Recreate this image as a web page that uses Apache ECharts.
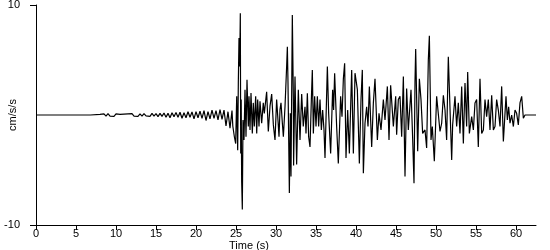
<!DOCTYPE html>
<html><head><meta charset="utf-8">
<script src="https://cdn.jsdelivr.net/npm/echarts@6/dist/echarts.min.js"></script>
<style>html,body{margin:0;padding:0;background:#fff}#c{width:550px;height:250px}</style>
</head><body><div id="c"></div>
<script>
var xTicks = [0,5,10,15,20,25,30,35,40,45,50,55,60];
var yTicks = [-10,10];
var times = [
0,6.8,6.9,7.0,
8.0,8.25,8.5,8.75,9.0,9.25,9.5,9.75,10.0,10.25,10.5,10.75,11.0,11.25,11.5,11.75,
12.0,12.25,12.5,12.75,13.0,13.25,13.5,13.75,14.0,14.25,14.5,14.75,15.0,15.25,15.5,15.75,
16.0,16.25,16.5,16.75,17.0,17.25,17.5,17.75,18.0,18.25,18.5,18.75,19.0,19.25,19.5,19.75,
20.0,20.25,20.5,20.75,21.0,21.25,21.5,21.75,22.0,22.25,22.5,22.75,23.0,23.25,23.5,23.75,
24.0,24.25,
24.5,24.6,24.8,24.96,25.09,25.21,25.29,25.375,25.46,25.54,25.59,25.65,25.71,25.79,25.875,
26.0,26.125,26.25,26.375,26.54,26.625,26.75,26.875,27.04,27.16,27.29,27.46,27.59,27.71,27.875,
28.0,28.21,28.41,28.54,28.83,29.04,29.25,29.46,29.67,29.875,30.08,30.25,30.375,30.5,30.625,30.8,30.92,
31.125,31.33,31.42,31.5,31.67,31.79,31.875,32.04,32.17,32.2,32.375,32.58,32.79,33.0,33.21,33.41,33.625,
33.75,33.92,34.08,34.25,34.42,34.54,34.67,34.83,35.0,35.17,35.33,35.5,35.67,35.83,36.0,36.125,
36.42,36.58,36.83,37.08,37.2,37.33,37.58,37.79,38.08,38.25,38.42,38.58,38.75,38.96,39.17,39.46,
39.67,39.875,40.17,40.42,40.625,40.79,40.92,41.125,41.33,41.5,41.67,41.96,42.17,42.375,42.67,
42.875,43.125,43.42,43.625,43.92,44.125,44.33,44.67,44.96,45.08,45.29,45.5,45.71,45.92,46.125,
46.33,46.54,46.875,47.08,47.25,47.375,47.46,47.71,47.92,48.125,48.33,48.625,48.83,49.04,49.17,
49.375,49.54,49.79,50.08,50.29,50.5,50.71,50.92,51.125,51.33,51.54,51.96,52.08,52.375,52.58,
52.79,53.0,53.21,53.42,53.625,53.83,53.96,54.17,54.46,54.67,54.875,55.08,55.29,55.5,55.71,
55.92,56.125,56.33,56.54,56.75,56.96,57.17,57.375,57.58,57.79,58.0,58.21,58.42,58.75,58.92,
59.08,59.25,59.46,59.67,59.875,60.08,60.29,60.5,60.71,60.92,61.125,61.33,61.54,61.75,61.96,62.5
];
var accel = [
0,0,-0.05,0,
0.05,-0.08,0.1,-0.1,0.12,-0.1,0.08,-0.12,0.1,-0.08,0.06,-0.1,0.08,-0.06,0.1,-0.08,
0.12,-0.1,0.08,-0.12,0.1,-0.1,0.12,-0.08,0.1,-0.12,0.14,-0.1,0.12,-0.15,0.15,-0.12,
0.18,-0.2,0.15,-0.25,0.2,-0.15,0.22,-0.2,0.25,-0.3,0.2,-0.25,0.3,-0.2,0.28,-0.35,
0.3,-0.25,0.35,-0.3,0.4,-0.5,0.3,-0.35,0.45,-0.3,0.4,-0.45,0.5,-0.4,0.45,-1.0,
0.3,-1.2,
0.4,-1.0,-2.0,-2.6,1.7,-3.2,2.9,7.0,4.4,9.25,-3.5,1.4,-6.1,-8.6,-0.45,
-2.27,2.3,-1.97,3.2,-1.05,1.7,-1.36,2.0,-1.67,1.1,-1.05,1.7,-1.67,1.4,-1.05,
1.25,-0.75,1.1,0.15,2.1,-1.5,0.8,1.9,-0.9,-2.27,1.4,-0.5,-1.97,0.5,1.1,-0.8,-1.97,
0.75,4.4,6.2,2.9,-7.1,0.15,-5.6,9.1,1.4,-4.6,3.5,-4.5,2.3,-2.27,1.9,-1.05,0.75,
-1.67,1.97,-1.97,-2.9,1.4,4.1,-1.67,1.7,-1.05,1.7,-1.05,1.4,-1.36,0.45,-1.36,-3.9,
4.4,0.15,-3.5,2.3,0.45,3.8,-1.05,-4.4,1.7,-0.15,3.3,4.7,-3.9,0.45,-3.5,4.1,
-3.5,3.8,2.3,-4.4,1.4,4.1,-5.3,-0.75,0.75,-1.05,2.6,-2.9,1.1,3.3,-2.27,
0.15,-1.36,1.4,-0.45,2.6,-2.27,2.7,-1.05,1.7,-1.8,1.4,1.7,-1.97,3.5,-5.6,
2.4,-1.36,2.3,-2.1,-6.2,3.0,6.0,-3.3,3.3,1.4,-1.67,-1.36,-3.0,5.0,7.2,
-2.27,-1.05,-4.2,1.7,1.7,-1.5,-0.75,1.8,0.45,-2.27,5.3,-4.1,-0.9,1.7,-1.05,
1.1,-1.67,2.6,-2.6,2.9,-1.05,3.9,-1.67,-0.15,-1.36,1.1,1.4,-2.9,3.3,-1.67,
-1.36,1.4,-0.15,1.4,-1.36,1.8,-1.36,-1.05,1.4,0.45,-1.05,2.6,-2.4,1.7,-0.45,
0.75,-0.75,0,-1.05,0.45,0.15,-0.9,1.1,1.7,-0.3,0,0.15,0,-0.15,0,0
];
var pts = times.map(function(t,i){return [t, accel[i]];});
var font = {fontFamily:'Liberation Sans, Arial, sans-serif', fontSize:11, color:'#000'};
var chart = echarts.init(document.getElementById('c'), null, {renderer:'canvas'});
chart.setOption({
  animation:false,
  backgroundColor:'#fff',
  grid:{left:36, right:14, top:5, bottom:25, containLabel:false, outerBoundsMode:'none'},
  xAxis:{
    type:'value', min:0, max:62.5,
    name:'Time (s)', nameLocation:'middle', nameGap:21, nameMoveOverlap:false,
    nameTextStyle:Object.assign({}, font, {verticalAlign:'middle', padding:[0,74,0,0], lineHeight:11}),
    axisLine:{show:true, onZero:false, lineStyle:{color:'#000', width:1}},
    axisTick:{show:true, length:5, customValues:xTicks, lineStyle:{color:'#000'}},
    axisLabel:Object.assign({}, font, {margin:3, customValues:xTicks}),
    splitLine:{show:false}
  },
  yAxis:{
    type:'value', min:-10, max:10,
    name:'cm/s/s', nameLocation:'middle', nameGap:18, nameRotate:90, nameMoveOverlap:false,
    nameTextStyle:font,
    axisLine:{show:true, lineStyle:{color:'#000', width:1}},
    axisTick:{show:true, length:6, customValues:yTicks, lineStyle:{color:'#000'}},
    axisLabel:Object.assign({}, font, {margin:16, customValues:yTicks}),
    splitLine:{show:false}
  },
  series:[{
    type:'line', data:pts, showSymbol:false, symbol:'none',
    lineStyle:{color:'#000', width:1.2}, silent:true
  }]
});
</script></body></html>
